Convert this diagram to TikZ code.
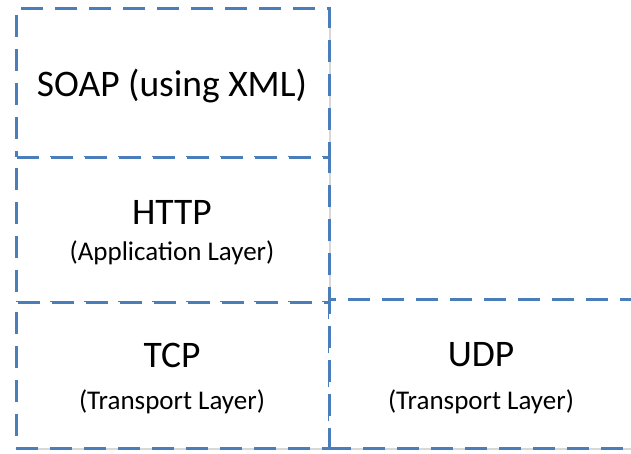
\documentclass[tikz,border=0pt]{standalone}
\usepackage{fontspec}
\setmainfont{Carlito}
\usetikzlibrary{shadows}
\definecolor{layerblue}{HTML}{4A7EBB}
\tikzset{
  layer/.style={draw=layerblue, line width=2.8pt, dash pattern=on 22pt off 12pt,
    fill=white, rectangle, inner sep=0pt, align=center,
    drop shadow={shadow xshift=2pt, shadow yshift=-2pt, opacity=0.3, fill=gray}},
  bigtxt/.style={font=\fontsize{37.5}{42}\selectfont},
  smalltxt/.style={font=\fontsize{27}{30}\selectfont}
}
\begin{document}
\begin{tikzpicture}[x=1pt, y=-1pt]
  \useasboundingbox (0,0) rectangle (631,454);
  \clip (0,0) rectangle (631,454);
  \fill[white] (0,0) rectangle (631,454);
  % protocol stack, one box per layer
  \node[layer, minimum width=313pt, minimum height=149pt, anchor=north west] (soap) at (15,7) {};
  \node[layer, minimum width=313pt, minimum height=145pt, anchor=north west] (http) at (15,156) {};
  \node[layer, minimum width=313pt, minimum height=146pt, anchor=north west] (tcp) at (15,301) {};
  \node[layer, minimum width=320pt, minimum height=149pt, anchor=north west] (udp) at (328,298) {};
  % labels
  \node[bigtxt] (soaplbl) at (172,86) {SOAP (using XML)};
  \node[bigtxt] (httplbl) at (172,212) {HTTP};
  \node[smalltxt] (httpsub) at (172,253) {(Application Layer)};
  \node[bigtxt] (tcplbl) at (172,355) {TCP};
  \node[smalltxt] (tcpsub) at (172,402) {(Transport Layer)};
  \node[bigtxt] (udplbl) at (481,355) {UDP};
  \node[smalltxt] (udpsub) at (481,402) {(Transport Layer)};
\end{tikzpicture}
\end{document}
